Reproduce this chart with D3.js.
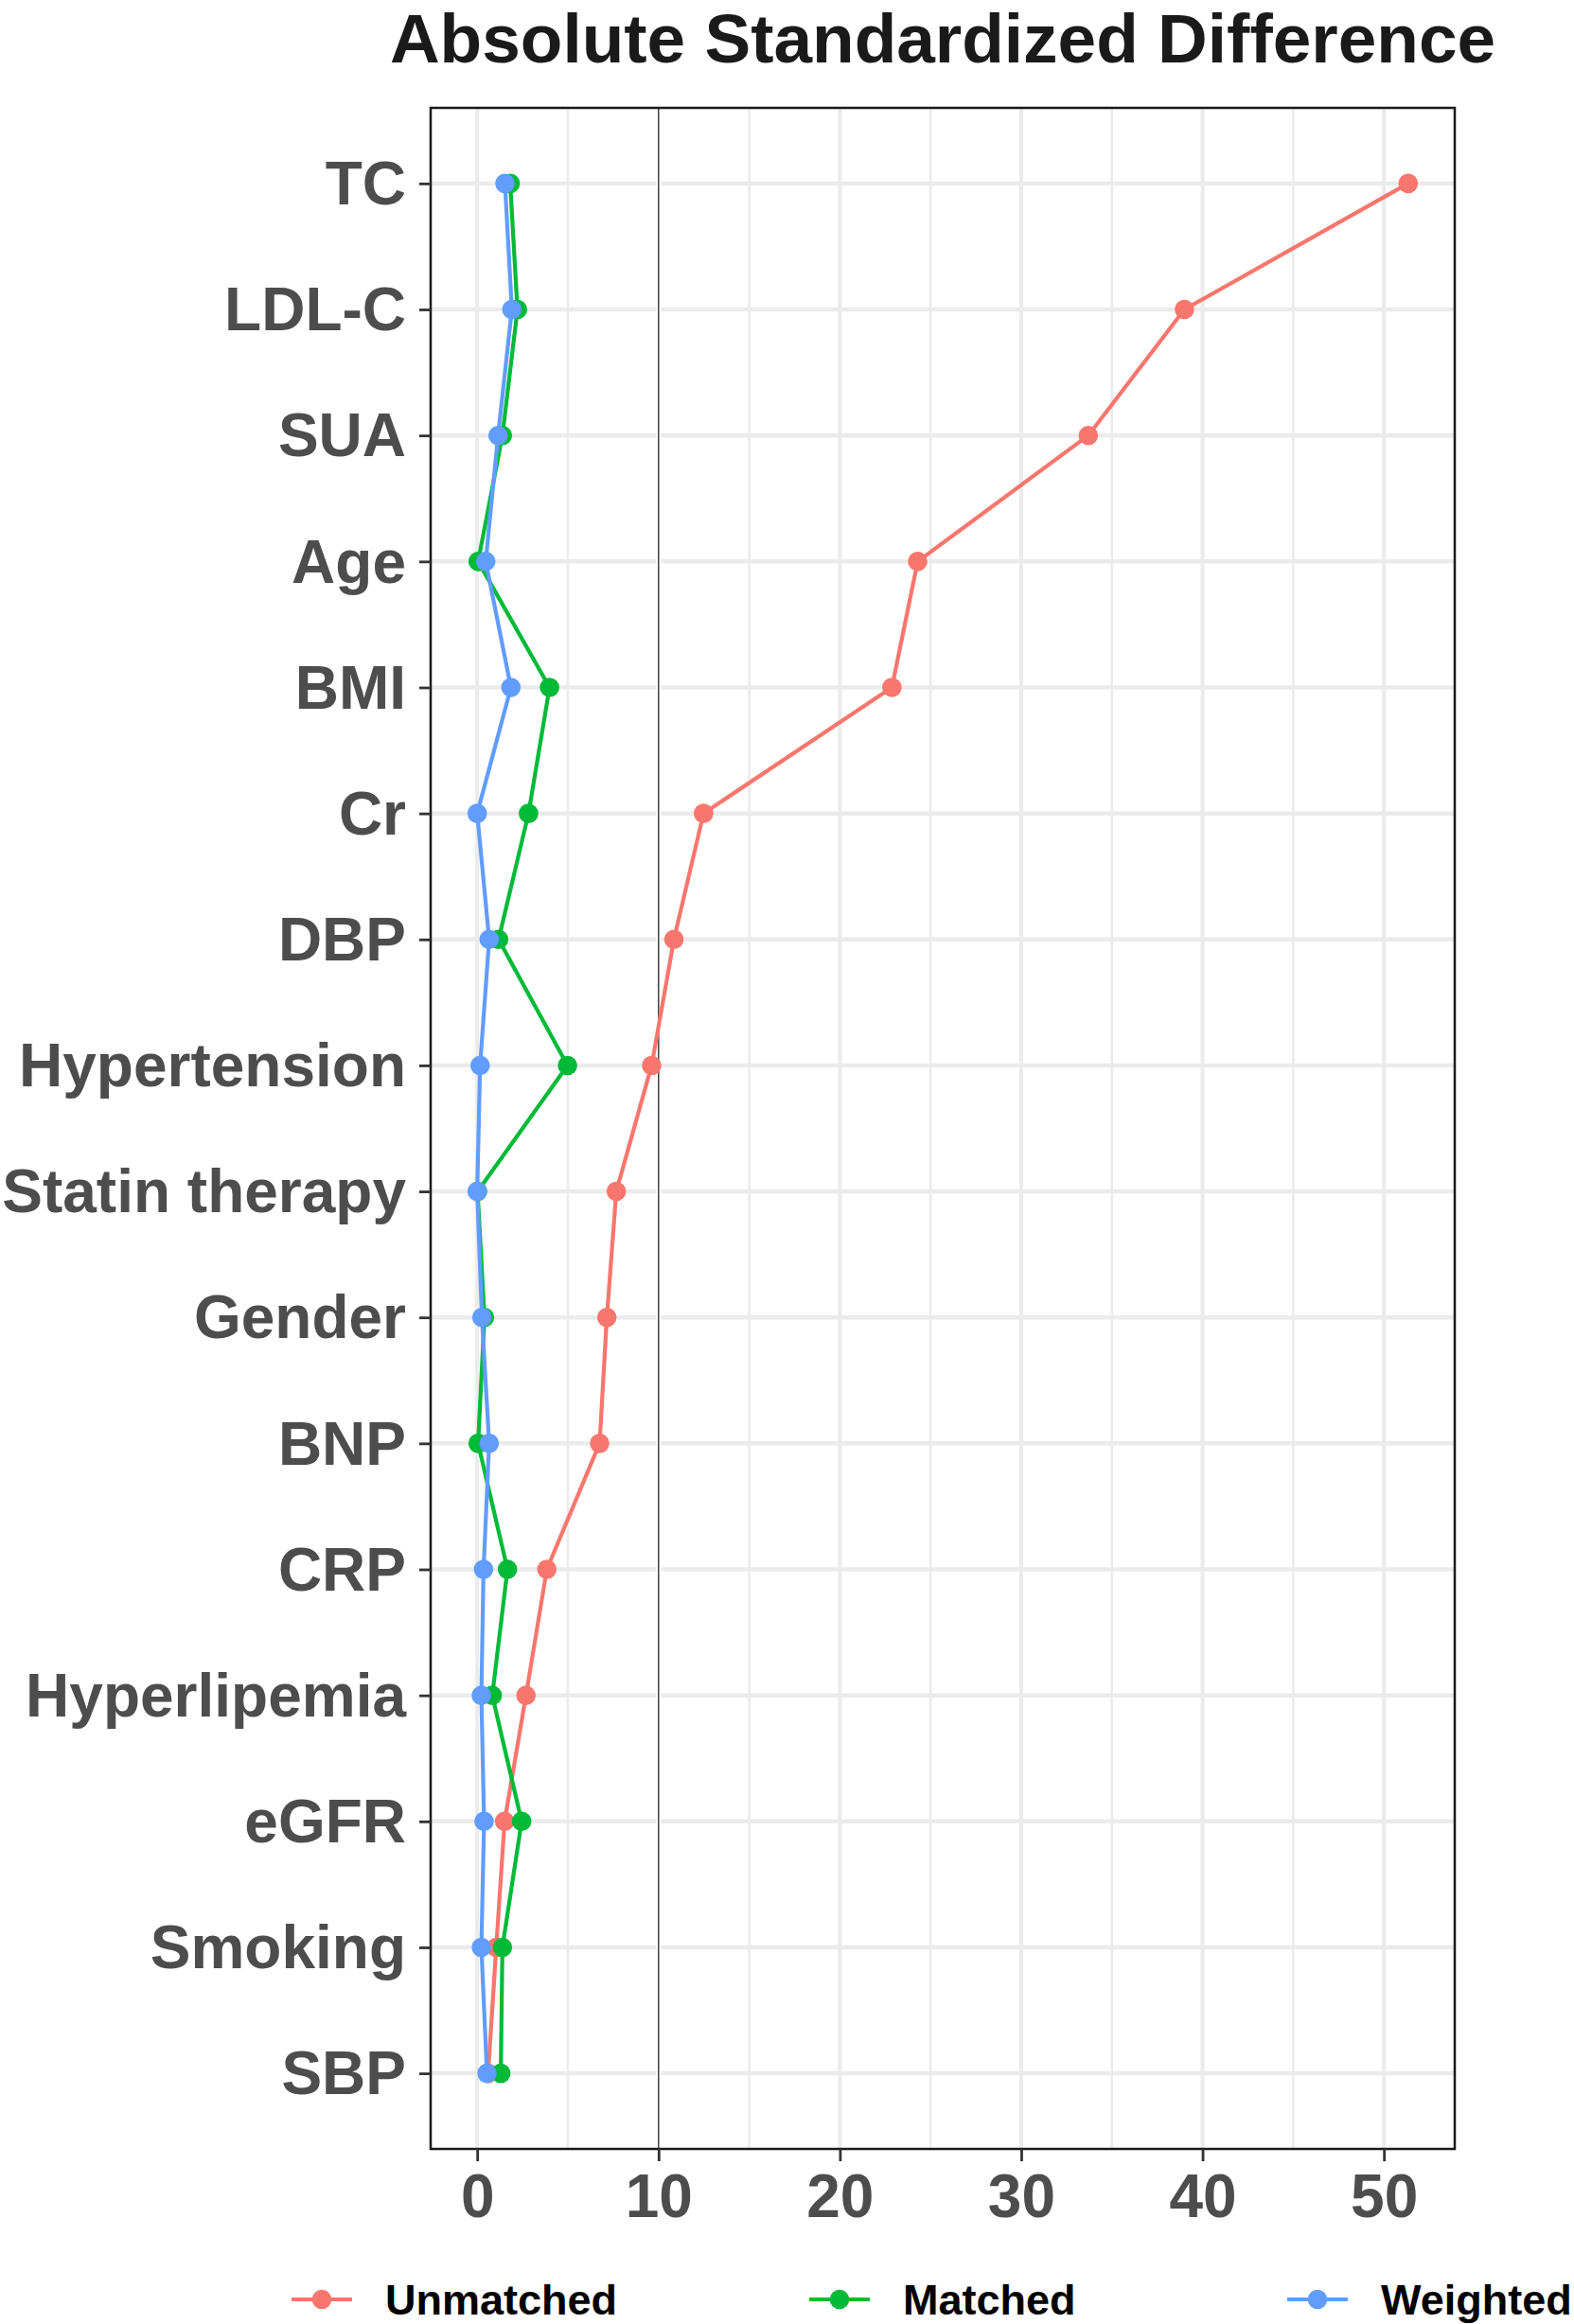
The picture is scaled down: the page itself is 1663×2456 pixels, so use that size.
<!DOCTYPE html>
<html>
<head>
<meta charset="utf-8">
<script src="https://cdn.jsdelivr.net/npm/d3@7"></script>
<style>
  html, body { margin: 0; padding: 0; background: #fff; }
  text { font-family: "Liberation Sans", Arial, sans-serif; font-weight: bold; }
</style>
</head>
<body>
<div id="chart"></div>
<script>

// covariates, top to bottom
var categories = ["TC", "LDL-C", "SUA", "Age", "BMI", "Cr", "DBP", "Hypertension",
  "Statin therapy", "Gender", "BNP", "CRP", "Hyperlipemia", "eGFR", "Smoking", "SBP"];

// absolute standardized difference per covariate
var unmatched = [51.34, 39.0, 33.7, 24.29, 22.87, 12.48, 10.85, 9.62, 7.67, 7.15, 6.75, 3.84, 2.69, 1.51, 1.05, 0.6];
var matched   = [1.82, 2.22, 1.39, 0.05, 3.99, 2.83, 1.18, 4.98, 0.02, 0.40, 0.05, 1.67, 0.83, 2.45, 1.39, 1.30];
var weighted  = [1.53, 1.91, 1.15, 0.47, 1.86, 0.0, 0.66, 0.16, 0.0, 0.26, 0.66, 0.35, 0.23, 0.38, 0.23, 0.54];

var seriesNames = ["Unmatched", "Matched", "Weighted"];
var xTicks = [0, 10, 20, 30, 40, 50];
var xMinor = [5, 15, 25, 35, 45];
var threshold = 10;

var colors = ["#F8766D", "#00BA38", "#619CFF"];

var W = 1663, H = 2456;
var margin = {top: 114, right: 126, bottom: 185, left: 455};
var width = W - margin.left - margin.right,
    height = H - margin.top - margin.bottom;

var series = [unmatched, matched, weighted].map(function(vals, i) {
  return {
    name: seriesNames[i],
    color: colors[i],
    values: vals.map(function(v, j) { return {cat: categories[j], value: v}; })
  };
});

var svg = d3.select("#chart").append("svg")
    .attr("width", W)
    .attr("height", H)
    .style("display", "block");

svg.append("rect").attr("width", W).attr("height", H).attr("fill", "#fff");

// title, centred over the panel
svg.append("text")
    .attr("x", margin.left + width / 2)
    .attr("y", 66)
    .attr("text-anchor", "middle")
    .style("font-size", "73px")
    .style("fill", "#1a1a1a")
    .text("Absolute Standardized Difference");

var g = svg.append("g")
    .attr("transform", "translate(" + margin.left + "," + margin.top + ")");

// scales, expanded like ggplot (5% continuous, 0.6 discrete)
var allVals = d3.merge([unmatched, matched, weighted]);
var lo = d3.min(allVals), hi = d3.max(allVals), pad = (hi - lo) * 0.05;
var x = d3.scaleLinear().domain([lo - pad, hi + pad]).range([0, width]);
var y = d3.scalePoint().domain(categories).range([0, height]).padding(0.6);

// grid
g.append("g").selectAll("line").data(xMinor).enter().append("line")
    .attr("x1", function(d) { return x(d); }).attr("x2", function(d) { return x(d); })
    .attr("y1", 0).attr("y2", height)
    .attr("stroke", "#EBEBEB").attr("stroke-width", 2.5);
g.append("g").selectAll("line").data(xTicks).enter().append("line")
    .attr("x1", function(d) { return x(d); }).attr("x2", function(d) { return x(d); })
    .attr("y1", 0).attr("y2", height)
    .attr("stroke", "#EBEBEB").attr("stroke-width", 4);
g.append("g").selectAll("line").data(categories).enter().append("line")
    .attr("x1", 0).attr("x2", width)
    .attr("y1", function(d) { return y(d); }).attr("y2", function(d) { return y(d); })
    .attr("stroke", "#EBEBEB").attr("stroke-width", 4.5);

// reference line at 10
g.append("line")
    .attr("x1", x(threshold)).attr("x2", x(threshold))
    .attr("y1", 0).attr("y2", height)
    .attr("stroke", "#fff").attr("stroke-width", 5);
g.append("line")
    .attr("x1", x(threshold)).attr("x2", x(threshold))
    .attr("y1", 0).attr("y2", height)
    .attr("stroke", "#333").attr("stroke-width", 1.4);

// lines first, then the points on top
var line = d3.line()
    .x(function(d) { return x(d.value); })
    .y(function(d) { return y(d.cat); });

g.append("g").selectAll("path").data(series).enter().append("path")
    .attr("d", function(d) { return line(d.values); })
    .attr("fill", "none")
    .attr("stroke", function(d) { return d.color; })
    .attr("stroke-width", 4.2)
    .attr("stroke-linejoin", "round");

g.append("g").selectAll("g").data(series).enter().append("g")
    .attr("fill", function(d) { return d.color; })
  .selectAll("circle").data(function(d) { return d.values; }).enter().append("circle")
    .attr("cx", function(d) { return x(d.value); })
    .attr("cy", function(d) { return y(d.cat); })
    .attr("r", 10.3);

// panel border
g.append("rect")
    .attr("width", width).attr("height", height)
    .attr("fill", "none").attr("stroke", "#1a1a1a").attr("stroke-width", 2.5);

// axes
var xAxis = g.append("g")
    .attr("transform", "translate(0," + height + ")")
    .call(d3.axisBottom(x).tickValues(xTicks).tickFormat(d3.format("d")).tickSize(13).tickPadding(14));
var yAxis = g.append("g")
    .call(d3.axisLeft(y).tickSize(12).tickPadding(14));

[xAxis, yAxis].forEach(function(ax) {
  ax.select(".domain").remove();
  ax.selectAll(".tick line").attr("stroke", "#333").attr("stroke-width", 2.8);
  ax.selectAll(".tick text")
      .attr("fill", "#4D4D4D")
      .style("font-size", "64px")
      .style("font-family", "'Liberation Sans', Arial, sans-serif")
      .style("font-weight", "bold");
});
xAxis.selectAll(".tick text").attr("dy", "0.71em");
yAxis.selectAll(".tick text").attr("dy", "0.34em");

// legend along the bottom
var legendX = [340, 887, 1392];
var legendY = 2430;
var legend = svg.append("g").selectAll("g").data(series).enter().append("g")
    .attr("transform", function(d, i) { return "translate(" + legendX[i] + "," + legendY + ")"; });
legend.append("line")
    .attr("x1", -32).attr("x2", 32)
    .attr("stroke", function(d) { return d.color; })
    .attr("stroke-width", 4.2);
legend.append("circle")
    .attr("r", 10.3)
    .attr("fill", function(d) { return d.color; });
legend.append("text")
    .attr("x", 67)
    .attr("y", 16)
    .style("font-size", "45px")
    .style("fill", "#000")
    .text(function(d) { return d.name; });

</script>
</body>
</html>
